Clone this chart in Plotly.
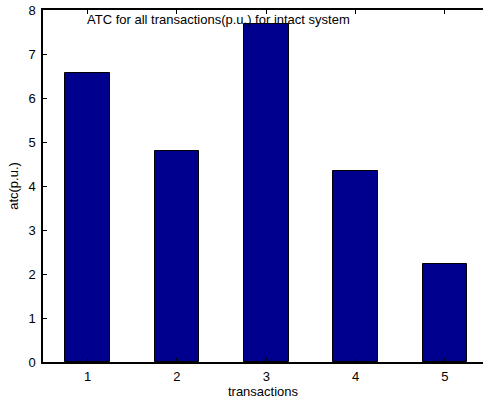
import plotly.graph_objects as go

transactions = [1, 2, 3, 4, 5]
atc_values = [6.56, 4.79, 7.68, 4.34, 2.22]
y_ticks = [0, 1, 2, 3, 4, 5, 6, 7, 8]

FONT = "Liberation Sans, Arial, sans-serif"

fig = go.Figure()
fig.add_trace(go.Bar(
    x=transactions,
    y=atc_values,
    width=0.5,
    marker=dict(color="#00008F", line=dict(color="black", width=1)),
))

fig.add_annotation(
    text="ATC for all transactions(p.u.) for intact system",
    xref="x", yref="paper", x=1, y=1,
    xanchor="left", yanchor="top", yshift=0, xshift=-3,
    showarrow=False, font=dict(family=FONT, size=13, color="black"),
)

fig.update_layout(
    width=483, height=403,
    margin=dict(l=43, r=0, t=10, b=41),
    paper_bgcolor="white", plot_bgcolor="white",
    showlegend=False,
    font=dict(family=FONT, size=13, color="black"),
    bargap=0,
)
fig.update_xaxes(
    range=[0.5, 5.427], tickmode="array", tickvals=transactions,
    ticktext=[str(t) for t in transactions],
    ticks="inside", ticklen=4, tickcolor="black",
    showline=True, linecolor="black", linewidth=1.5, mirror="ticks",
    showgrid=False, zeroline=False, ticklabelstandoff=2,
    title=dict(text="transactions", standoff=4, font=dict(size=13)),
)
fig.update_yaxes(
    range=[0, 8], tickmode="array", tickvals=y_ticks,
    ticks="inside", ticklen=4, tickcolor="black",
    showline=True, linecolor="black", linewidth=1.5, mirror=False,
    showgrid=False, zeroline=False, ticklabelstandoff=3,
    title=dict(text="atc(p.u.)", standoff=7, font=dict(size=13)),
)

fig.write_html("out.html")
